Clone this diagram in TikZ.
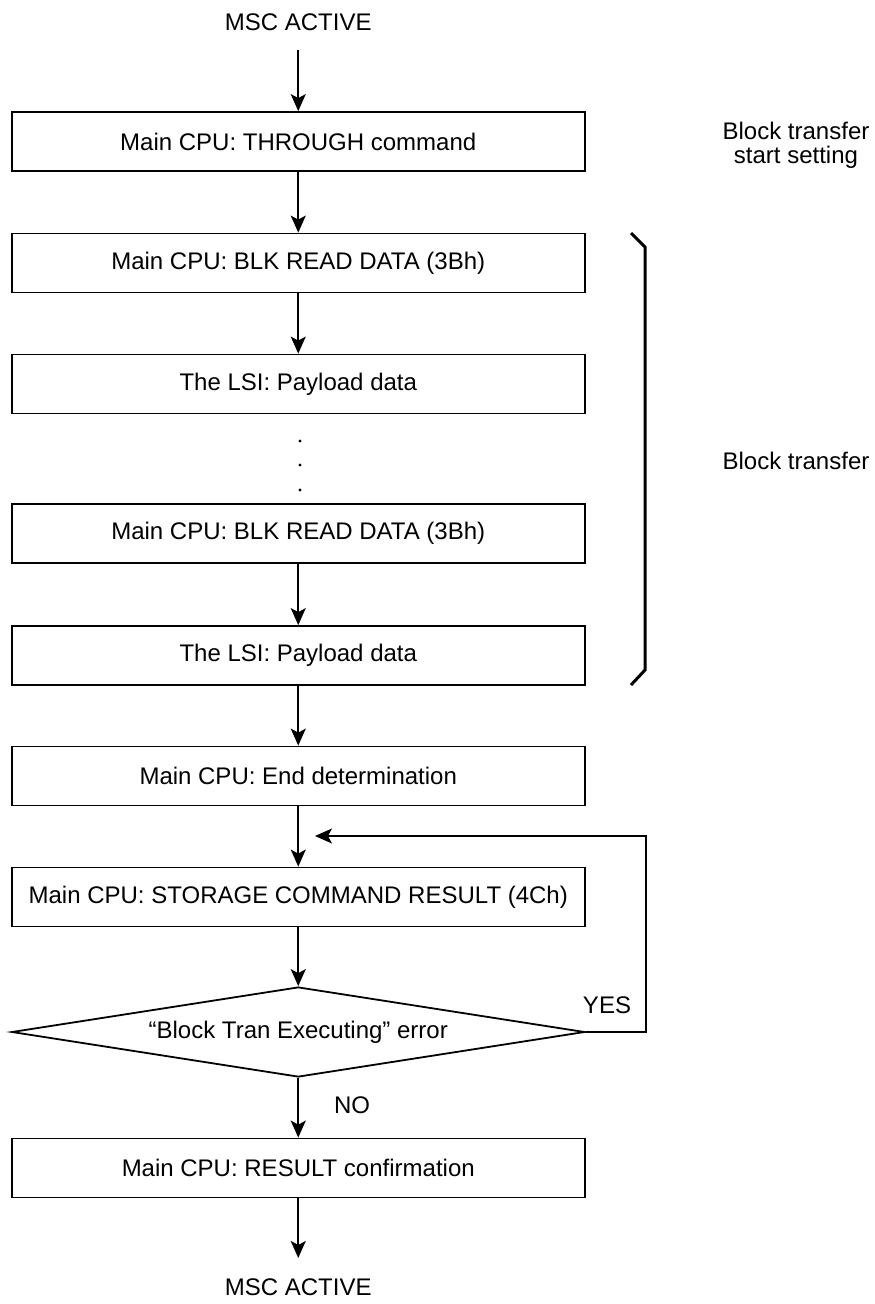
\documentclass[tikz,border=0pt]{standalone}
\usepackage{fontspec}
\setmainfont{Liberation Sans}
\usetikzlibrary{arrows.meta,shapes.geometric}
\begin{document}
\begin{tikzpicture}[x=1pt,y=-1pt,
  txt/.style={font=\fontsize{24}{28}\selectfont},
  stepbox/.style={txt,draw,line width=1.8pt,minimum width=573pt,minimum height=59pt,inner sep=0pt},
  decbox/.style={txt,draw,shape=diamond,shape aspect=6.37,line width=1.8pt,minimum width=573pt,minimum height=90pt,inner sep=0pt},
  arr/.style={line width=1.7pt,-{Stealth[length=17pt,width=15pt,inset=4pt]}},
  plain/.style={line width=1.7pt}]
\useasboundingbox (0,0) rectangle (875,1304);
\node[txt] (start) at (298.25,22) {MSC ACTIVE};
\node[stepbox] (b1) at (298.25,141.5) {Main CPU: THROUGH command};
\node[stepbox] (b2) at (298.25,263) {Main CPU: BLK READ DATA (3Bh)};
\node[stepbox] (b3) at (298.25,384) {The LSI: Payload data};
\node[stepbox] (b4) at (298.25,533.5) {Main CPU: BLK READ DATA (3Bh)};
\node[stepbox] (b5) at (298.25,655.5) {The LSI: Payload data};
\node[stepbox] (b6) at (298.25,776) {Main CPU: End determination};
\node[stepbox] (b7) at (298.25,897) {Main CPU: STORAGE COMMAND RESULT (4Ch)};
\node[decbox] (d1) at (298.25,1032) {``Block Tran Executing'' error};
\node[stepbox] (b8) at (298.25,1168) {Main CPU: RESULT confirmation};
\node[txt] (end) at (298.25,1287) {MSC ACTIVE};
\node[txt,align=center] (lab1) at (796,145) {Block transfer\\[-4pt]start setting};
\node[txt] (lab2) at (796,461) {Block transfer};
\node[txt] (yes) at (607,1005) {YES};
\node[txt] (no) at (352,1105) {NO};
\coordinate (fbend) at (315,836);
\coordinate (fbcorner1) at (646,1032);
\coordinate (fbcorner2) at (646,836);
% dots
\fill (300,441) circle (1.6);
\fill (300,465) circle (1.6);
\fill (300,490) circle (1.6);
% arrows
\draw[arr,shorten <=16pt] (start.south) -- (b1.north);
\draw[arr] (b1.south) -- (b2.north);
\draw[arr] (b2.south) -- (b3.north);
\draw[arr] (b4.south) -- (b5.north);
\draw[arr] (b5.south) -- (b6.north);
\draw[arr] (b6.south) -- (b7.north);
\draw[arr] (b7.south) -- (d1.north);
\draw[arr] (d1.south) -- (b8.north);
\draw[arr,shorten >=17pt] (b8.south) -- (end.north);
\draw[arr] (d1.east) -- (fbcorner1) -- (fbcorner2) -- (fbend);
% brace
\draw[line width=3pt] (631,233) -- (645,247) -- (645,670) -- (631,685);
\end{tikzpicture}
\end{document}
